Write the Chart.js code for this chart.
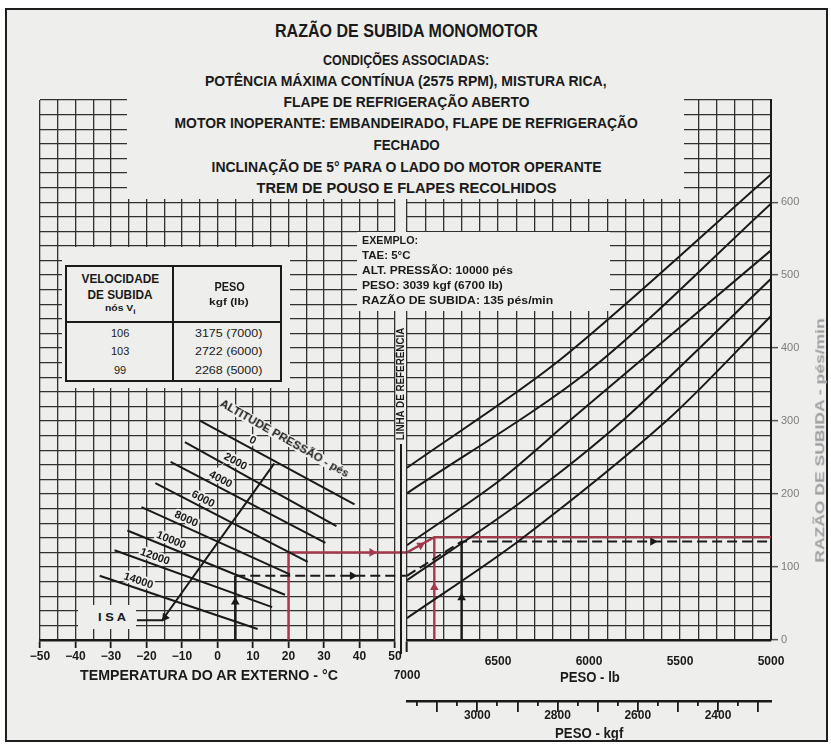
<!DOCTYPE html>
<html>
<head>
<meta charset="utf-8">
<script src="https://cdn.jsdelivr.net/npm/chart.js@4.4.1/dist/chart.umd.min.js"></script>
<style>
  html, body { margin: 0; padding: 0; background: #ffffff; }
  #page { position: relative; width: 831px; height: 745px; overflow: hidden; background: #ffffff;
          font-family: "Liberation Sans", Arial, sans-serif; }
  #paper { position: absolute; left: 5px; top: 8px; width: 819px; height: 730px;
           background: #eeeeec; border: 2px solid #1e1e1e; }
  canvas { position: absolute; left: 0; top: 0; }
  .mask { position: absolute; background: #eeeeec; }
  .t { position: absolute; white-space: nowrap; font-weight: bold; color: #1a1a1a; line-height: 1; }
  .box { position: absolute; box-sizing: border-box; border: 2px solid #1a1a1a; background: #eeeeec; }
  .rule { position: absolute; background: #1a1a1a; }
</style>
</head>
<body>
<div id="page">
  <div id="paper"></div>
  <canvas id="cL" width="831" height="745"></canvas>
  <canvas id="cR" width="831" height="745"></canvas>
  <canvas id="cK" width="831" height="745"></canvas>
  <div id="overlay"></div>
</div>
<script>
// ---- Left panel: outside air temperature vs pressure altitude ----
const altitudeLabels = ['0', '2000', '4000', '6000', '8000', '10000', '12000', '14000'];
const altTempStart = [-5.1, -9.2, -13.2, -17.5, -21.4, -25.4, -29.0, -33.2];
const altRefStart  = [301, 271, 244, 215, 182, 150, 123, 88];
const altTempEnd   = [38.6, 33.5, 30.4, 25.4, 20.4, 19.0, 15.4, 11.3];
const altRefEnd    = [186, 156, 133, 107, 90, 62, 45, 15];
const altLabelAt   = [0.32, 0.31, 0.30, 0.29, 0.28, 0.26, 0.24, 0.23];   // position along each line
const isaTemp = [-22.7, -15.6, 16];
const isaRef  = [27, 27, 242];

// ---- Right panel: guide lines, weight (lb) vs rate of climb (ft/min) ----
const guideLb = [
  [7000, 6159, 5000],
  [7000, 5995, 5000],
  [7000, 6489, 6104, 5000],
  [7000, 6379, 5813, 5000],
  [7000, 6379, 5571, 5000]
];
const guideRoc = [
  [236, 384, 638],
  [201, 370, 598],
  [130, 219, 301, 534],
  [82, 188, 301, 495],
  [30, 137, 301, 444]
];

// ---- Worked example (black) and second trace (red) ----
const exampleTemp = 5, exampleRef = 88, exampleLb = 6700, exampleRoc = 135;
const redTemp = 20, redRef = 120, redLb = 6850, redRoc = 141;
const refLineTemp = 53.3;            // panel junction, on the temperature scale

// arrowheads: [x, y, rotation in degrees]
const leftArrowsBlack  = [[5, 52, 0], [38, 88, 90], [-14.8, 31, 216]];
const leftArrowsRed    = [[43.5, 120, 90]];
const rightArrowsBlack = [[6700, 58, 0], [5650, 135, 90]];
const rightArrowsRed   = [[6850, 72, 0], [6925, 130, 60]];

// ---- Axis ticks ----
const tempTickStep = 5, tempLabelStep = 10;
const lbTickStep = 100, lbLabelStep = 500;
const rocTickStep = 20, rocLabelStep = 100, rocLabelMax = 600;
const kgfTickStep = 50, kgfMidStep = 100, kgfLabelStep = 200;
const LB_PER_KGF = 2.20462;

const INK = '#1a1a1a';
const GRID = '#303030';
const RED = '#a23a4c';
const PAPER = '#eeeeec';
const FONT = '"Liberation Sans", Arial, sans-serif';

Chart.defaults.font.family = FONT;

function pts(xs, ys) { return xs.map((v, i) => ({ x: v, y: ys[i] })); }
function line(data, color, width, extra) {
  return Object.assign({ data, showLine: true, borderColor: color, borderWidth: width,
    pointRadius: 0, pointHoverRadius: 0, fill: false }, extra || {});
}
function arrows(list, color) {
  return {
    data: list.map(a => ({ x: a[0], y: a[1] })),
    showLine: false, pointStyle: 'triangle', pointRadius: 5, pointHoverRadius: 5,
    pointRotation: list.map(a => a[2]),
    pointBackgroundColor: color, pointBorderColor: color, pointBorderWidth: 0, clip: false
  };
}
const minus = v => (v < 0 ? '\u2212' + Math.abs(v) : String(v));

// labels along the altitude lines
const altLabelPlugin = {
  id: 'altLabels',
  afterDatasetsDraw(chart) {
    const { ctx, scales: { x, y } } = chart;
    ctx.save();
    ctx.font = 'bold 11px ' + FONT;
    ctx.textAlign = 'center';
    ctx.textBaseline = 'middle';
    altitudeLabels.forEach((lab, i) => {
      const x0 = x.getPixelForValue(altTempStart[i]), y0 = y.getPixelForValue(altRefStart[i]);
      const x1 = x.getPixelForValue(altTempEnd[i]),   y1 = y.getPixelForValue(altRefEnd[i]);
      const f = altLabelAt[i];
      const ang = Math.atan2(y1 - y0, x1 - x0);
      const px = x0 + (x1 - x0) * f + Math.sin(ang) * 7.5;
      const py = y0 + (y1 - y0) * f - Math.cos(ang) * 7.5;
      ctx.save();
      ctx.translate(px, py);
      ctx.rotate(ang);
      ctx.lineWidth = 4;
      ctx.strokeStyle = PAPER;
      ctx.strokeText(lab, 0, 0);
      ctx.fillStyle = INK;
      ctx.fillText(lab, 0, 0);
      ctx.restore();
    });
    ctx.restore();
  }
};

// reference line between the two panels
const refLinePlugin = {
  id: 'refLine',
  afterDatasetsDraw(chart) {
    const { ctx, chartArea, scales: { y } } = chart;
    const xr = chartArea.left - 6;
    ctx.save();
    ctx.strokeStyle = INK;
    ctx.lineWidth = 2;
    ctx.beginPath();
    ctx.moveTo(xr, y.getPixelForValue(270));
    ctx.lineTo(xr, chartArea.bottom + 14);
    ctx.stroke();
    ctx.restore();
  }
};

const common = {
  responsive: false, animation: false, events: [],
  plugins: { legend: { display: false }, tooltip: { enabled: false } }
};

// ---------- left chart ----------
new Chart(document.getElementById('cL'), {
  type: 'scatter',
  data: {
    datasets: [
      ...altitudeLabels.map((a, i) => line(
        [{ x: altTempStart[i], y: altRefStart[i] }, { x: altTempEnd[i], y: altRefEnd[i] }], INK, 2)),
      line(pts(isaTemp, isaRef), INK, 2),
      line([{ x: exampleTemp, y: 0 }, { x: exampleTemp, y: exampleRef }], INK, 2.4),
      line([{ x: exampleTemp, y: exampleRef }, { x: refLineTemp, y: exampleRef }], INK, 2,
        { borderDash: [10, 5], clip: false }),
      line([{ x: redTemp, y: 0 }, { x: redTemp, y: redRef }, { x: refLineTemp, y: redRef }], RED, 2.4,
        { clip: false }),
      arrows(leftArrowsBlack, INK),
      arrows(leftArrowsRed, RED)
    ]
  },
  options: Object.assign({}, common, {
    layout: { padding: { left: 40, right: 436, top: 100, bottom: 65 } },
    scales: {
      x: {
        type: 'linear', min: -50, max: 50,
        ticks: {
          stepSize: tempTickStep, autoSkip: false, maxRotation: 0, padding: 1,
          callback: v => (v % tempLabelStep === 0 ? minus(v) : ''),
          color: INK, font: { size: 12, weight: 'bold' }
        },
        grid: {
          color: GRID, lineWidth: 1.3, tickLength: 8, tickWidth: 1.8,
          tickColor: c => (c.tick && c.tick.value % tempLabelStep === 0 ? INK : 'transparent')
        },
        border: { color: INK, width: 2.5 },
        afterFit: s => { s.height = 40; }
      },
      y: {
        type: 'linear', min: 0, max: 740,
        ticks: { display: false, stepSize: rocTickStep, autoSkip: false },
        grid: { color: GRID, lineWidth: 1.3, drawTicks: false },
        border: { display: false },
        afterFit: s => { s.width = 0; }
      }
    }
  }),
  plugins: [altLabelPlugin]
});

// ---------- right chart ----------
new Chart(document.getElementById('cR'), {
  type: 'scatter',
  data: {
    datasets: [
      ...guideLb.map((w, i) => line(pts(w, guideRoc[i]), INK, 2, { tension: 0.3 })),
      line([{ x: 7000, y: exampleRef }, { x: exampleLb, y: exampleRoc }, { x: 5000, y: exampleRoc }], INK, 2,
        { borderDash: [10, 5] }),
      line([{ x: exampleLb, y: 0 }, { x: exampleLb, y: exampleRoc }], INK, 2.4),
      line([{ x: 7000, y: redRef }, { x: redLb, y: redRoc }, { x: 5000, y: redRoc }], RED, 2.4),
      line([{ x: redLb, y: 0 }, { x: redLb, y: redRoc }], RED, 2.4),
      arrows(rightArrowsBlack, INK),
      arrows(rightArrowsRed, RED)
    ]
  },
  options: Object.assign({}, common, {
    layout: { padding: { left: 407, right: 0, top: 100, bottom: 65 } },
    scales: {
      x: {
        type: 'linear', min: 5000, max: 7000, reverse: true,
        ticks: {
          stepSize: lbTickStep, autoSkip: false, maxRotation: 0, padding: 2,
          callback: v => (v % lbLabelStep === 0 ? (v === 7000 ? ['', '7000'] : String(v)) : ''),
          color: INK, font: { size: 12, weight: 'bold' }
        },
        grid: {
          color: GRID, lineWidth: 1.3, tickLength: 12, tickWidth: 2,
          tickColor: c => (c.tick && c.tick.value === 7000 ? INK : 'transparent')
        },
        border: { color: INK, width: 2.5 },
        afterFit: s => { s.height = 40; }
      },
      y: {
        type: 'linear', position: 'right', min: 0, max: 740,
        ticks: {
          stepSize: rocTickStep, autoSkip: false, padding: 3,
          callback: v => (v % rocLabelStep === 0 && v <= rocLabelMax ? String(v) : ''),
          color: '#7c7c7c', font: { size: 11 }
        },
        grid: {
          color: GRID, lineWidth: 1.3, tickLength: 7, tickWidth: 1.5,
          tickColor: c => (c.tick && c.tick.value % rocLabelStep === 0 && c.tick.value <= rocLabelMax ? '#555' : 'transparent')
        },
        border: { color: INK, width: 2 },
        afterFit: s => { s.width = 60; }
      }
    }
  }),
  plugins: [refLinePlugin]
});

// ---------- kgf scale under the weight axis ----------
const kgfMin = 5000 / LB_PER_KGF, kgfMax = 7000 / LB_PER_KGF;
new Chart(document.getElementById('cK'), {
  type: 'scatter',
  data: { datasets: [] },
  options: Object.assign({}, common, {
    layout: { padding: { left: 407, right: 60, top: 701, bottom: 0 } },
    scales: {
      x: {
        type: 'linear', min: kgfMin, max: kgfMax, reverse: true,
        ticks: {
          stepSize: kgfTickStep, includeBounds: false, autoSkip: false, maxRotation: 0, padding: -4,
          callback: v => (Math.round(v) % kgfLabelStep === 0 ? String(Math.round(v)) : ''),
          color: INK, font: { size: 12, weight: 'bold' }
        },
        grid: {
          color: INK, lineWidth: 1.8, tickLength: 6, tickWidth: 1.8,
          tickColor: c => (c.tick && Math.round(c.tick.value) % kgfMidStep === 0 ? INK : 'transparent')
        },
        border: { display: false },
        afterFit: s => { s.height = 39; }
      },
      xTop: {
        type: 'linear', position: 'top', min: kgfMin, max: kgfMax, reverse: true,
        ticks: { display: false },
        grid: { display: true, color: 'transparent', drawTicks: false },
        border: { display: true, color: INK, width: 2.5 },
        afterFit: s => { s.height = 0; }
      },
      y: { display: false, min: 0, max: 1 }
    }
  })
});

// ---------- masks, boxes and text ----------
const overlay = document.getElementById('overlay');
function rect(cls, l, t, w, h) {
  const d = document.createElement('div');
  d.className = cls;
  Object.assign(d.style, { left: l + 'px', top: t + 'px', width: w + 'px', height: h + 'px' });
  overlay.appendChild(d);
  return d;
}
function text(txt, x, cy, size, width, opt) {
  opt = opt || {};
  const d = document.createElement('div');
  d.className = 't';
  if (opt.html) d.innerHTML = txt; else d.textContent = txt;
  d.style.fontSize = size + 'px';
  if (opt.color) d.style.color = opt.color;
  if (opt.weight) d.style.fontWeight = opt.weight;
  if (opt.bg) d.style.background = opt.bg;
  if (opt.spacing) d.style.letterSpacing = opt.spacing + 'px';
  overlay.appendChild(d);
  const w = d.offsetWidth, h = d.offsetHeight;
  const sx = width ? width / w : 1;
  if (opt.align === 'left') {
    d.style.left = x + 'px';
    d.style.transformOrigin = 'left center';
  } else {
    d.style.left = (x - w / 2) + 'px';
  }
  d.style.top = (cy - h / 2) + 'px';
  d.style.transform = 'rotate(' + (opt.rot || 0) + 'deg) scaleX(' + sx + ')';
  return d;
}

// areas where the grid is left blank
rect('mask', 127, 10, 557, 189);
rect('mask', 357, 232, 253, 79);
rect('mask', 62, 247, 228, 141);
rect('mask', 78, 605, 58, 24);
rect('mask', 396, 322, 10, 122);

// heading
const headingLines = [
  ['RAZÃO DE SUBIDA MONOMOTOR', 32, 17.5, 263],
  ['CONDIÇÕES ASSOCIADAS:', 60, 14, 166],
  ['POTÊNCIA MÁXIMA CONTÍNUA (2575 RPM), MISTURA RICA,', 81, 14, 402],
  ['FLAPE DE REFRIGERAÇÃO ABERTO', 102, 14, 246],
  ['MOTOR INOPERANTE: EMBANDEIRADO, FLAPE DE REFRIGERAÇÃO', 123, 14, 463],
  ['FECHADO', 145, 14, 66],
  ['INCLINAÇÃO DE 5° PARA O LADO DO MOTOR OPERANTE', 167, 14, 390],
  ['TREM DE POUSO E FLAPES RECOLHIDOS', 188, 14, 300]
];
headingLines.forEach(h => text(h[0], 406, h[1], h[2], h[3]));

// example block
const exampleLines = [
  ['EXEMPLO:', 56],
  ['TAE: 5°C', 48],
  ['ALT. PRESSÃO: 10000 pés', 151],
  ['PESO: 3039 kgf (6700 lb)', 141],
  ['RAZÃO DE SUBIDA: 135 pés/min', 191]
];
exampleLines.forEach((l, i) => text(l[0], 362, 241 + i * 15, 11.5, l[1], { align: 'left' }));

// climb speed table
rect('box', 65, 265, 217, 117);
rect('rule', 172, 265, 2, 117);
rect('rule', 65, 321, 217, 2);
text('VELOCIDADE', 120, 279, 12, 78);
text('DE SUBIDA', 120, 295, 12, 65);
text('nós V<sub style="font-size:7px">i</sub>', 120, 309, 9, 30, { html: true });
text('PESO', 229, 287, 12, 30);
text('kgf (lb)', 229, 302, 9.5, 40);
const tableSpeed = ['106', '103', '99'];
const tableWeight = ['3175 (7000)', '2722 (6000)', '2268 (5000)'];
tableSpeed.forEach((s, i) => {
  text(s, 120, 333 + i * 18.5, 11, null, { weight: 'normal' });
  text(tableWeight[i], 228, 333 + i * 18.5, 11, 67, { weight: 'normal' });
});

// panel annotations
text('ALTITUDE PRESSÃO - pés', 284, 438, 11, 146, { rot: 29.5, bg: PAPER });
text('I S A', 112, 617, 11, 28);
text('LINHA DE REFERÊNCIA', 401, 384, 10, 113, { rot: -90 });
text('TEMPERATURA DO AR EXTERNO - °C', 209, 675, 14, 258);
text('PESO - lb', 590, 677, 14, 60);
text('PESO - kgf', 589, 733, 14, 68);
text('RAZÃO DE SUBIDA - pés/min', 820, 440, 13, 245, { rot: -90, color: '#9d9d9d' });
</script>
</body>
</html>
